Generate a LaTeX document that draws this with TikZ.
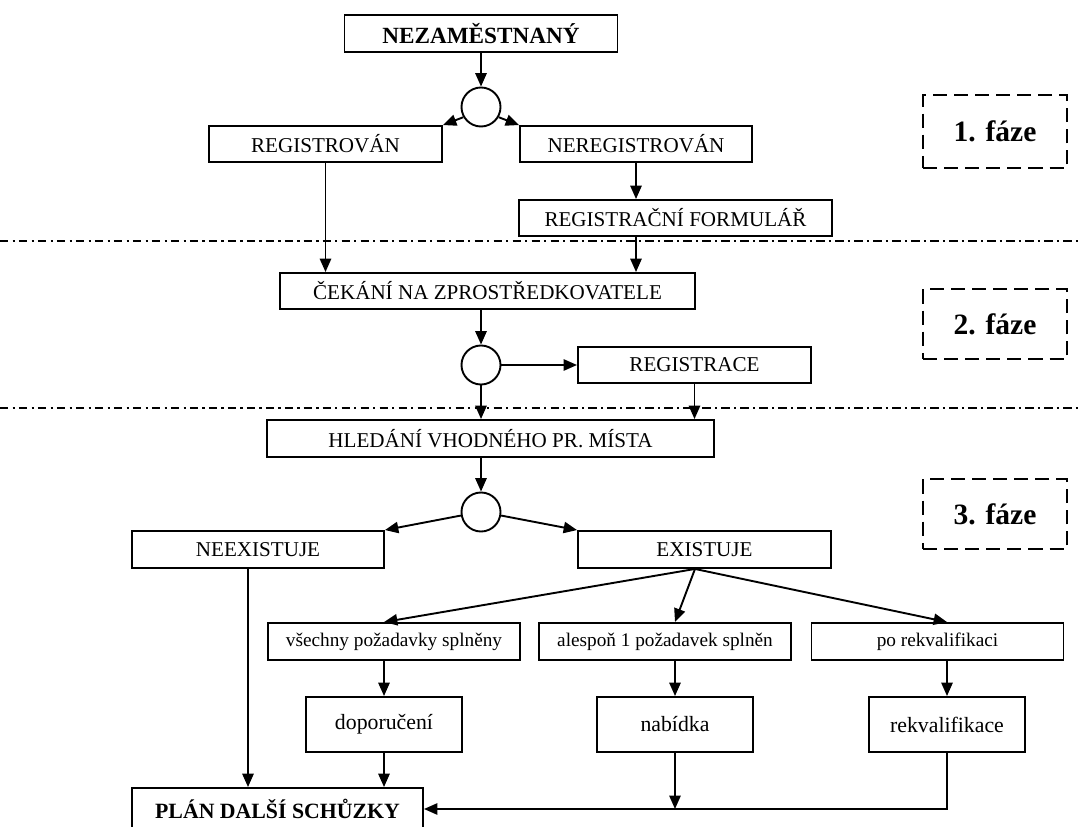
\documentclass[tikz,border=0pt]{standalone}
\usepackage{fontspec}
\setmainfont{Liberation Serif}
\usetikzlibrary{arrows.meta, calc}
\tikzstyle{box} = [rectangle, draw, line width=1.35pt, inner sep=0pt, minimum height=0.9cm, font=\fontsize{15}{18}\selectfont]
\tikzstyle{condbox} = [box, minimum width=6.3cm, minimum height=0.925cm, font=\fontsize{13.7}{16}\selectfont]
\tikzstyle{resbox} = [box, minimum width=3.9cm, minimum height=1.375cm, font=\fontsize{15.5}{18}\selectfont]
\tikzstyle{split} = [circle, draw, line width=1.35pt, inner sep=0pt, minimum size=0.975cm]
\tikzstyle{phase} = [rectangle, draw, line width=1.5pt, dash pattern=on 10pt off 5pt, minimum width=3.6cm, minimum height=1.75cm, font=\fontsize{21}{24}\selectfont\bfseries]
\tikzstyle{line} = [draw, line width=1.35pt, -{Triangle[length=9.5pt,width=8pt]}]
\tikzstyle{border} = [draw, line width=0.9pt, dash pattern=on 6pt off 3pt on 1.5pt off 3pt]

\begin{document}
\begin{tikzpicture}[x=0.025cm, y=-0.025cm]
        \clip (0,0) rectangle (1081,827);
        % Nodes
        \node [box, minimum width=6.825cm, minimum height=0.925cm, font=\fontsize{16.5}{20}\selectfont\bfseries] (nezam) at (481,33.5) {NEZAMĚSTNANÝ};
        \node [split] (c1) at (481,107) {};
        \node [box, minimum width=5.825cm] (reg) at (325.5,144) {REGISTROVÁN};
        \node [box, minimum width=5.8cm] (nereg) at (636,144) {NEREGISTROVÁN};
        \node [box, minimum width=7.825cm] (form) at (675.5,218) {REGISTRAČNÍ FORMULÁŘ};
        \node [box, minimum width=10.375cm] (cekani) at (487.5,291) {ČEKÁNÍ NA ZPROSTŘEDKOVATELE};
        \node [split] (c2) at (481,365) {};
        \node [box, minimum width=5.825cm] (regis) at (694.5,365) {REGISTRACE};
        \node [box, minimum width=11.175cm, minimum height=0.925cm] (hled) at (490.5,438.5) {HLEDÁNÍ VHODNÉHO PR. MÍSTA};
        \node [split] (c3) at (481,512) {};
        \node [box, minimum width=6.3cm, minimum height=0.925cm] (neex) at (258,549.5) {NEEXISTUJE};
        \node [box, minimum width=6.325cm, minimum height=0.925cm] (exist) at (704.5,549.5) {EXISTUJE};
        \node [condbox] (vsech) at (394,641.5) {všechny požadavky splněny};
        \node [condbox] (alesp) at (665,641.5) {alespoň 1 požadavek splněn};
        \node [condbox] (porek) at (937.5,641.5) {po rekvalifikaci};
        \node [resbox] (dopor) at (384,724.5) {doporučení};
        \node [resbox] (nabid) at (675,724.5) {nabídka};
        \node [resbox] (rekv) at (947,724.5) {rekvalifikace};
        \node [box, minimum width=7.275cm, minimum height=1.05cm, font=\fontsize{15.5}{18}\selectfont\bfseries] (plan) at (277.5,809) {PLÁN DALŠÍ SCHŮZKY};

        % Phases
        \node [phase, minimum height=1.825cm] (f1) at (995,131.5) {1. fáze};
        \node [phase] (f2) at (995,324) {2. fáze};
        \node [phase] (f3) at (995,514) {3. fáze};
        \path [border] (0,241) -- (1081,241);
        \path [border] (0,408) -- (1081,408);

        % Edges
        \path [line] (nezam.south) -- (c1.north);
        \path [line] (c1.210) -- (reg.north east);
        \path [line] (c1.-30) -- (nereg.north west);
        \path [line] (reg.south) -- (cekani.north -| reg.south);
        \path [line] (nereg.south) -- (form.north -| nereg.south);
        \path [line] (form.south -| nereg.south) -- (cekani.north -| nereg.south);
        \path [line] (cekani.south -| c2.north) -- (c2.north);
        \path [line] (c2.east) -- (regis.west);
        \path [line] (c2.south) -- (hled.north -| c2.south);
        \path [line] (regis.south) -- (hled.north -| regis.south);
        \path [line] (hled.south -| c3.north) -- (c3.north);
        \path [line] (c3.190) -- (neex.north east);
        \path [line] (c3.-10) -- (exist.north west);
        \coordinate (fan) at ($(exist.south)+(-9.5,0)$);
        \path [line] (fan) -- (vsech.north -| dopor.north);
        \path [line] (fan) -- (alesp.north -| nabid.north);
        \path [line] (fan) -- (porek.north -| rekv.north);
        \path [line] (vsech.south -| dopor.north) -- (dopor.north);
        \path [line] (alesp.south -| nabid.north) -- (nabid.north);
        \path [line] (porek.south -| rekv.north) -- (rekv.north);
        \coordinate (neexout) at ($(neex.south)+(-10,0)$);
        \path [line] (neexout) -- (plan.north -| neexout);
        \path [line] (dopor.south) -- (plan.north -| dopor.south);
        \path [line] (rekv.south) |- (plan.east);
        \path [line] (nabid.south) -- (plan.east -| nabid.south);
    \end{tikzpicture}
\end{document}
